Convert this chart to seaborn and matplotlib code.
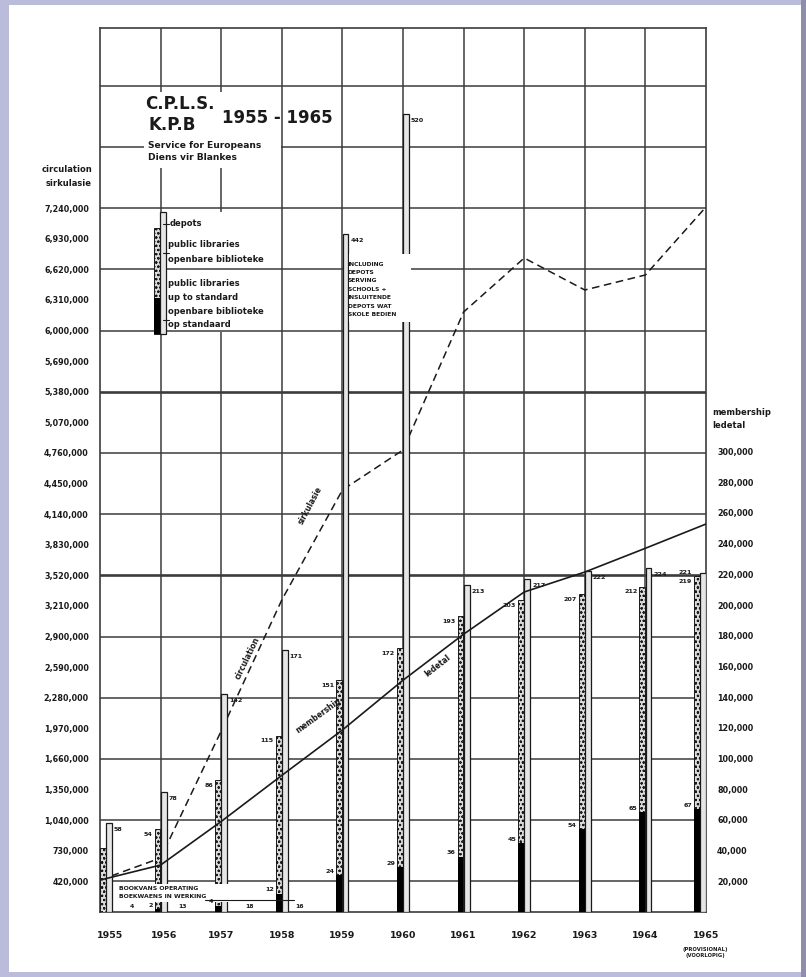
import matplotlib
matplotlib.use('Agg')
import numpy as np
import pandas as pd
import matplotlib.pyplot as plt
import seaborn as sns
from matplotlib.patches import Rectangle
from matplotlib.lines import Line2D
from matplotlib.transforms import blended_transform_factory

# data (C.P.L.S. / K.P.B 1955-1965)
years = ['1955', '1956', '1957', '1958', '1959', '1960', '1961', '1962', '1963', '1964', '1965']
circulation = [434000, 657000, 1944000, 3271000, 4385000, 4790000, 6188000, 6735000, 6411000, 6563000, 7252000]
membership = [20800, 30600, 59000, 89000, 118600, 151000, 181000, 208500, 221500, 237000, 252800]
public_libraries = [42, 54, 86, 115, 151, 172, 193, 203, 207, 212, 219]
up_to_standard = [0, 2, 4, 12, 24, 29, 36, 45, 54, 65, 67]
depots = [58, 78, 142, 171, 442, 520, 213, 217, 222, 224, 221]
bookvans = ['4', '13', '18', '16']
circ_ticks = list(range(420000, 7240001, 310000))
member_ticks = list(range(20000, 300001, 20000))

W, H = 806, 977
GRID = '#3c3c3c'
INK = '#1a1a1a'


def fx(x):
    return x / W


def fy(y):
    return 1 - y / H


def box(ax, x0, y0, x1, y1, z, **kw):
    # white patch given in pixel coordinates of the page
    r = Rectangle((fx(x0), fy(y1)), (x1 - x0) / W, (y1 - y0) / H,
                  transform=ax.figure.transFigure, zorder=z, **kw)
    ax.add_artist(r)
    return r


def txt(x, y, s, size=6, weight='bold', **kw):
    kw.setdefault('color', INK)
    fig.text(fx(x), fy(y), s, fontsize=size, fontweight=weight, **kw)


sns.set_style('white')
plt.rcParams['font.family'] = ['DejaVu Sans']
plt.rcParams['hatch.linewidth'] = 0.5

fig = plt.figure(figsize=(W / 100, H / 100), dpi=100)
fig.patch.set_facecolor('#bbbbdb')
fig.patches.append(Rectangle((fx(9), fy(972)), 792 / W, 967 / H, transform=fig.transFigure,
                             facecolor='white', edgecolor='none', zorder=-2))
fig.patches.append(Rectangle((fx(801), 0), 5 / W, 1, transform=fig.transFigure,
                             facecolor='#8e8eab', edgecolor='none', zorder=-2))

ax = fig.add_axes([fx(100), fy(912), 606 / W, 884 / H])
ax.set_facecolor('white')
xpos = np.arange(len(years))
df = pd.DataFrame({'x': xpos, 'circulation': circulation, 'membership': membership})

# grid
for i in range(1, len(years) - 1):
    ax.axvline(i, color=GRID, lw=1.1, zorder=1)
grid_vals = [circ_ticks[0] + 620000 * k for k in range(14)]
for k, v in enumerate(grid_vals):
    ax.axhline(v, color=GRID, lw=1.9 if k in (5, 8) else 1.1, zorder=2)

# legend panel hides the vertical grid, title panel hides everything
box(ax, 166, 212, 281, 332, 1.5, facecolor='white', edgecolor='none')
box(ax, 144, 92, 281, 168, 3, facecolor='white', edgecolor='none')

sns.lineplot(data=df, x='x', y='circulation', ax=ax, color=INK, lw=1.1,
             linestyle=(0, (5, 3)), zorder=4)
ax.set_xlim(0, 10)
ax.set_ylim(110000, 9065000)
ax.set_xticks([])
ax.set_yticks(circ_ticks)
ax.set_yticklabels([f'{v:,}' for v in circ_ticks], fontsize=5.8, fontweight='bold', color=INK)
ax.tick_params(axis='y', length=0, pad=8)
ax.set_xlabel('')
ax.set_ylabel('')
for s in ax.spines.values():
    s.set_color(GRID)
    s.set_linewidth(1.2)

ax2 = ax.twinx()
ax2.set_facecolor('none')
ax2.set_ylim(0, 576000)

shift = np.where(xpos == 0, 0.1, np.where(xpos == len(years) - 1, -0.1, 0.0))
bw = 0.095
xl = xpos + shift - 0.05
xr = xpos + shift + 0.05
pub = np.array(public_libraries) * 1000
std = np.array(up_to_standard) * 1000
dep = np.array(depots) * 1000

ax2.bar(xl, pub, width=bw, facecolor='#dcdcdc', edgecolor=INK, hatch='oooo', lw=0.7, zorder=3)
ax2.bar(xl, std, width=bw, color='black', lw=0, zorder=3.1)
ax2.bar(xr, dep, width=bw, facecolor='#e6e6e6', edgecolor=INK, lw=0.9, zorder=3)

sns.lineplot(data=df, x='x', y='membership', ax=ax2, color=INK, lw=1.2, zorder=4)
ax2.set_xlim(0, 10)
ax2.set_yticks(member_ticks)
ax2.set_yticklabels([f'{v:,}' for v in member_ticks], fontsize=5.8, fontweight='bold', color=INK)
ax2.tick_params(axis='y', length=0, pad=8)
ax2.set_ylabel('')
ax2.set_xlabel('')
for s in ax2.spines.values():
    s.set_visible(False)

# bar value labels
lab = dict(fontsize=4.6, fontweight='bold', color=INK, zorder=6)
last = len(years) - 1
for i in range(len(years)):
    if i > 0:
        ax2.annotate(str(public_libraries[i]), (xl[i] - bw / 2, pub[i]), xytext=(-1.5, -2),
                     textcoords='offset points', ha='right', va='top', **lab)
    if std[i] > 0:
        ax2.annotate(str(up_to_standard[i]), (xl[i] - bw / 2, std[i]), xytext=(-1.5, 1),
                     textcoords='offset points', ha='right', va='bottom', **lab)
    if i == last:
        ax2.annotate(str(depots[i]), (xl[i] - bw / 2, dep[i]), xytext=(-1.5, 0),
                     textcoords='offset points', ha='right', va='center', **lab)
    else:
        ax2.annotate(str(depots[i]), (xr[i] + bw / 2, dep[i]), xytext=(1.5, -3),
                     textcoords='offset points', ha='left', va='top', **lab)

# 1959 note box (covers grid and the 1960 depot bar)
box(ax2, 349, 254, 411, 322, 5, facecolor='white', edgecolor='none')
note = ['INCLUDING', 'DEPOTS', 'SERVING', 'SCHOOLS +', 'INSLUITENDE', 'DEPOTS WAT', 'SKOLE BEDIEN']
for k, line in enumerate(note):
    txt(348, 264 + k * 8.4, line, size=4.3, va='center', zorder=6)

# title block
txt(145, 104, 'C.P.L.S.', size=12, va='center')
txt(148, 125, 'K.P.B', size=12, va='center')
txt(222, 118, '1955 - 1965', size=12, va='center')
txt(148, 145, 'Service for Europeans', size=6.6, va='center')
txt(148, 158, 'Diens vir Blankes', size=6.6, va='center')

# legend
lg_h = Rectangle((fx(154), fy(334)), 6 / W, 106 / H, transform=fig.transFigure,
                 facecolor='#dcdcdc', edgecolor=INK, hatch='oooo', lw=0.7, zorder=5)
lg_b = Rectangle((fx(154), fy(334)), 6 / W, 36 / H, transform=fig.transFigure,
                 facecolor='black', lw=0, zorder=5.1)
lg_d = Rectangle((fx(160), fy(334)), 6 / W, 122 / H, transform=fig.transFigure,
                 facecolor='#e6e6e6', edgecolor=INK, lw=0.9, zorder=5)
for p in (lg_h, lg_b, lg_d):
    ax2.add_artist(p)
for yy in (224, 253, 320):
    fig.add_artist(Line2D([fx(163), fx(169)], [fy(yy), fy(yy)], color=INK, lw=0.8))
txt(170, 224, 'depots', size=6, va='center')
txt(168, 245, 'public libraries', size=6, va='center')
txt(168, 259, 'openbare biblioteke', size=6, va='center')
txt(168, 284, 'public libraries', size=6, va='center')
txt(168, 297, 'up to standard', size=6, va='center')
txt(168, 312, 'openbare biblioteke', size=6, va='center')
txt(168, 325, 'op standaard', size=6, va='center')

# axis captions
txt(92, 170, 'circulation', size=6, ha='right', va='center')
txt(92, 184, 'sirkulasie', size=6, ha='right', va='center')
txt(712, 412, 'membership', size=6, ha='left', va='center')
txt(712, 426, 'ledetal', size=6, ha='left', va='center')

# line captions
txt(247, 658, 'circulation', size=5.5, rotation=64, ha='center', va='center')
txt(310, 505, 'sirkulasie', size=5.5, rotation=62, ha='center', va='center')
txt(318, 716, 'membership', size=5.5, rotation=36, ha='center', va='center')
txt(438, 666, 'ledetal', size=5.5, rotation=38, ha='center', va='center')

# year labels along the base
tr = blended_transform_factory(ax.transData, fig.transFigure)
for i, y in enumerate(years):
    off = 0.17 if i == 0 else (0.05 if i == 1 else 0.0)
    ax.text(i + off, fy(936), y, transform=tr, ha='center', va='center',
            fontsize=6.8, fontweight='bold', color=INK, clip_on=False)
txt(705, 949, '(PROVISIONAL)', size=3.8, ha='center', va='center')
txt(705, 956, '(VOORLOPIG)', size=3.8, ha='center', va='center')

# bookvan strip at the bottom
box(ax2, 118, 884, 232, 902, 4.5, facecolor='white', edgecolor='none')
txt(119, 888, 'BOOKVANS OPERATING', size=4.4, va='center', zorder=6)
txt(119, 897, 'BOEKWAENS IN WERKING', size=4.4, va='center', zorder=6)
fig.add_artist(Line2D([fx(205), fx(294)], [fy(900), fy(900)], color=INK, lw=0.8))
for s, xx in zip(bookvans, [132, 183, 250, 300]):
    txt(xx, 907, s, size=4.4, ha='center', va='center')

fig.savefig('out.png', dpi=100, facecolor=fig.get_facecolor())
